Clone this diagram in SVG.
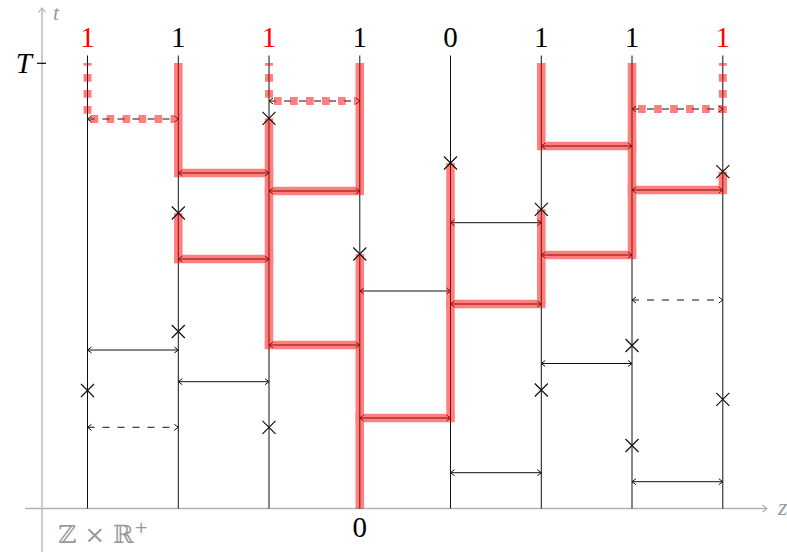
<svg xmlns="http://www.w3.org/2000/svg" width="787" height="556" viewBox="0 0 787 556">
<style>
.ax{stroke:#b3b3b3;stroke-width:1.3;fill:none}
.vl{stroke:#111;stroke-width:1;fill:none}
.ar{stroke:#111;stroke-width:1;fill:none;marker-start:url(#ah);marker-end:url(#ah)}
.da{stroke-dasharray:7 8}
.cr{stroke:#111;stroke-width:1.2;fill:none}
.rs{stroke:#ff0000;stroke-width:8.5;fill:none;stroke-linecap:butt}
.rh{stroke:#ff0000;stroke-width:8.5;fill:none;stroke-linecap:square}
.rd{stroke:#ff0000;stroke-width:8;fill:none;stroke-dasharray:7.7 8.3;stroke-dashoffset:5}
.lb{font-family:"Liberation Serif",serif;font-size:29px;text-anchor:middle}
.gt{font-family:"Liberation Serif",serif;font-style:italic;fill:#999}
</style>
<defs>
<marker id="ah" viewBox="-5 -4 6 8" markerWidth="6" markerHeight="8" refX="0" refY="0" markerUnits="userSpaceOnUse" orient="auto-start-reverse">
<path d="M-4,-3 L0,0 L-4,3" fill="none" stroke="#111" stroke-width="1" stroke-dasharray="none"/>
</marker>
<marker id="gh" viewBox="-6 -5 7 10" markerWidth="7" markerHeight="10" refX="0" refY="0" markerUnits="userSpaceOnUse" orient="auto">
<path d="M-4.5,-3.5 L0,0 L-4.5,3.5" fill="none" stroke="#b3b3b3" stroke-width="1.2"/>
</marker>
</defs>
<rect width="787" height="556" fill="#fff"/>
<g id="axes">
<line class="ax" x1="25" y1="508.5" x2="767" y2="508.5" marker-end="url(#gh)"/>
<line class="ax" x1="42" y1="552" x2="42" y2="8" marker-end="url(#gh)"/>
<line x1="37" y1="63.3" x2="46" y2="63.3" stroke="#000" stroke-width="1.2"/>
<text class="gt" x="53" y="20" font-size="22">t</text>
<text class="gt" x="778" y="515" font-size="24">z</text>
<text x="32" y="73" font-family="Liberation Serif,serif" font-style="italic" font-size="29" text-anchor="end">T</text>
<text x="58" y="543" font-family="DejaVu Serif,serif" font-size="25" fill="#999">ℤ × ℝ<tspan font-size="17" dy="-10">+</tspan></text>
</g>
<g id="lines">
<line class="vl" x1="87.5" y1="55.5" x2="87.5" y2="508.5"/>
<line class="vl" x1="178.3" y1="55.5" x2="178.3" y2="508.5"/>
<line class="vl" x1="269" y1="55.5" x2="269" y2="508.5"/>
<line class="vl" x1="359.8" y1="55.5" x2="359.8" y2="508.5"/>
<line class="vl" x1="450.5" y1="55.5" x2="450.5" y2="508.5"/>
<line class="vl" x1="541.3" y1="55.5" x2="541.3" y2="508.5"/>
<line class="vl" x1="632" y1="55.5" x2="632" y2="508.5"/>
<line class="vl" x1="722.8" y1="55.5" x2="722.8" y2="508.5"/>
</g>
<g id="labels">
<text class="lb" x="87.5" y="47" fill="#ff0000">1</text>
<text class="lb" x="178.3" y="47">1</text>
<text class="lb" x="269" y="47" fill="#ff0000">1</text>
<text class="lb" x="359.8" y="47">1</text>
<text class="lb" x="450.5" y="47">0</text>
<text class="lb" x="541.3" y="47">1</text>
<text class="lb" x="632" y="47">1</text>
<text class="lb" x="722.8" y="47" fill="#ff0000">1</text>
<text class="lb" x="359.8" y="537">0</text>
</g>
<g id="connectors">
<line class="ar" x1="87.5" y1="350" x2="178.3" y2="350"/>
<line class="ar" x1="178.3" y1="381.7" x2="269" y2="381.7"/>
<line class="ar" x1="359.8" y1="291" x2="450.5" y2="291"/>
<line class="ar" x1="450.5" y1="222.7" x2="541.3" y2="222.7"/>
<line class="ar" x1="541.3" y1="363.5" x2="632" y2="363.5"/>
<line class="ar" x1="450.5" y1="472.7" x2="541.3" y2="472.7"/>
<line class="ar" x1="632" y1="481.7" x2="722.8" y2="481.7"/>
<line class="ar da" x1="87.5" y1="427.3" x2="178.3" y2="427.3"/>
<line class="ar da" x1="632" y1="300" x2="722.8" y2="300"/>
<line class="ar da" x1="87.5" y1="119" x2="178.3" y2="119"/>
<line class="ar da" x1="269" y1="101" x2="359.8" y2="101"/>
<line class="ar da" x1="632" y1="109" x2="722.8" y2="109"/>
<line class="ar" x1="178.3" y1="173" x2="269" y2="173"/>
<line class="ar" x1="178.3" y1="259" x2="269" y2="259"/>
<line class="ar" x1="269" y1="191" x2="359.8" y2="191"/>
<line class="ar" x1="269" y1="345" x2="359.8" y2="345"/>
<line class="ar" x1="359.8" y1="418" x2="450.5" y2="418"/>
<line class="ar" x1="450.5" y1="304" x2="541.3" y2="304"/>
<line class="ar" x1="541.3" y1="255" x2="632" y2="255"/>
<line class="ar" x1="541.3" y1="146" x2="632" y2="146"/>
<line class="ar" x1="632" y1="190" x2="722.8" y2="190"/>
</g>
<g id="path" opacity="0.5">
<line class="rs" x1="178.3" y1="63" x2="178.3" y2="173"/>
<line class="rs" x1="178.3" y1="213" x2="178.3" y2="259"/>
<line class="rs" x1="269" y1="118.3" x2="269" y2="345"/>
<line class="rs" x1="359.8" y1="63" x2="359.8" y2="191"/>
<line class="rs" x1="359.8" y1="254" x2="359.8" y2="508.5"/>
<line class="rs" x1="450.5" y1="163" x2="450.5" y2="418"/>
<line class="rs" x1="541.3" y1="63" x2="541.3" y2="146"/>
<line class="rs" x1="541.3" y1="209.3" x2="541.3" y2="304"/>
<line class="rs" x1="632" y1="63" x2="632" y2="255"/>
<line class="rs" x1="722.8" y1="171.7" x2="722.8" y2="190"/>
<line class="rh" x1="178.3" y1="173" x2="269" y2="173"/>
<line class="rh" x1="178.3" y1="259" x2="269" y2="259"/>
<line class="rh" x1="269" y1="191" x2="359.8" y2="191"/>
<line class="rh" x1="269" y1="345" x2="359.8" y2="345"/>
<line class="rh" x1="359.8" y1="418" x2="450.5" y2="418"/>
<line class="rh" x1="450.5" y1="304" x2="541.3" y2="304"/>
<line class="rh" x1="541.3" y1="255" x2="632" y2="255"/>
<line class="rh" x1="541.3" y1="146" x2="632" y2="146"/>
<line class="rh" x1="632" y1="190" x2="722.8" y2="190"/>
<path class="rd" d="M87.5,63 V119 H178.3"/>
<path class="rd" d="M269,63 V101 H359.8"/>
<path class="rd" d="M722.8,63 V109 H632"/>
</g>
<g id="crosses">
<path class="cr" d="M81,384 l13,13 M94,384 l-13,13"/>
<path class="cr" d="M171.8,206.5 l13,13 M184.8,206.5 l-13,13"/>
<path class="cr" d="M171.8,325 l13,13 M184.8,325 l-13,13"/>
<path class="cr" d="M262.5,111.8 l13,13 M275.5,111.8 l-13,13"/>
<path class="cr" d="M262.5,420.8 l13,13 M275.5,420.8 l-13,13"/>
<path class="cr" d="M353.3,247.5 l13,13 M366.3,247.5 l-13,13"/>
<path class="cr" d="M444,156.5 l13,13 M457,156.5 l-13,13"/>
<path class="cr" d="M534.8,202.8 l13,13 M547.8,202.8 l-13,13"/>
<path class="cr" d="M534.8,383.5 l13,13 M547.8,383.5 l-13,13"/>
<path class="cr" d="M625.5,339 l13,13 M638.5,339 l-13,13"/>
<path class="cr" d="M625.5,439 l13,13 M638.5,439 l-13,13"/>
<path class="cr" d="M716.3,165.2 l13,13 M729.3,165.2 l-13,13"/>
<path class="cr" d="M716.3,392.8 l13,13 M729.3,392.8 l-13,13"/>
</g>
</svg>
